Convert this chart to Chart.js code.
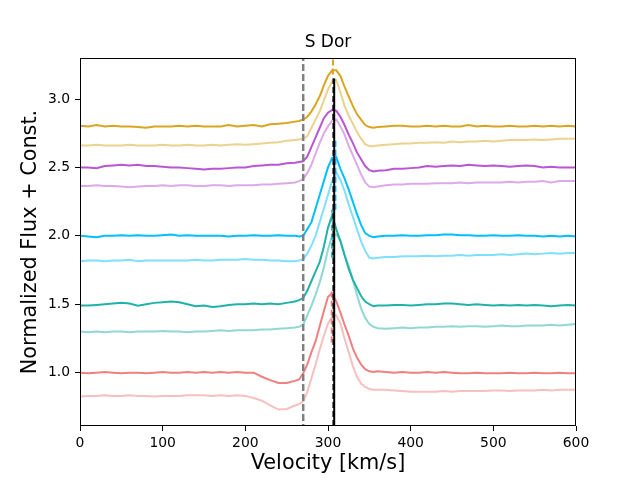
<!DOCTYPE html>
<html>
<head>
<meta charset="utf-8">
<script src="https://cdn.jsdelivr.net/npm/chart.js@4"></script>
<style>
  html, body { margin: 0; padding: 0; background: #fff; }
</style>
</head>
<body>
<canvas id="spectra" width="640" height="480"></canvas>
<script>
// velocity grid (km/s), finer around the emission peak
const velocity = [
    0, 10, 20, 30, 40, 50, 60, 70, 80, 90, 100, 110, 120, 130, 140, 150, 160, 170, 180, 190, 200, 210, 220, 230, 240, 250, 260,
    265, 270, 275, 280, 285, 290, 295, 300, 305, 310, 315, 320, 325, 330, 335, 340, 345, 350, 355,
    360, 370, 380, 390, 400, 410, 420, 430, 440, 450, 460, 470, 480, 490, 500, 510, 520, 530, 540, 550, 560, 570, 580, 590, 600
];

const fluxGold = [
    2.805, 2.80, 2.81, 2.80, 2.805, 2.80, 2.80, 2.795, 2.79, 2.80, 2.80, 2.80, 2.805, 2.80, 2.805, 2.80, 2.80, 2.80, 2.81, 2.80, 2.805, 2.81, 2.80, 2.815, 2.82, 2.825, 2.835,
    2.84, 2.85, 2.87, 2.91, 2.96, 3.02, 3.10, 3.17, 3.21, 3.21, 3.17, 3.09, 3.02, 2.95, 2.89, 2.85, 2.81, 2.795, 2.79,
    2.795, 2.80, 2.805, 2.805, 2.80, 2.80, 2.805, 2.80, 2.805, 2.80, 2.80, 2.81, 2.80, 2.805, 2.80, 2.80, 2.805, 2.80, 2.80, 2.805, 2.80, 2.805, 2.80, 2.805, 2.80
];
const fluxGoldLight = [
    2.66, 2.66, 2.665, 2.66, 2.66, 2.66, 2.665, 2.66, 2.66, 2.66, 2.665, 2.66, 2.66, 2.665, 2.66, 2.66, 2.665, 2.66, 2.665, 2.67, 2.665, 2.67, 2.675, 2.68, 2.685, 2.695, 2.70,
    2.705, 2.71, 2.73, 2.79, 2.85, 2.91, 2.99, 3.07, 3.13, 3.14, 3.05, 2.95, 2.88, 2.82, 2.76, 2.71, 2.67, 2.655, 2.655,
    2.66, 2.665, 2.67, 2.675, 2.675, 2.68, 2.68, 2.685, 2.68, 2.69, 2.685, 2.69, 2.69, 2.695, 2.69, 2.695, 2.70, 2.70, 2.70, 2.705, 2.70, 2.705, 2.71, 2.71, 2.71
];
const fluxOrchid = [
    2.50, 2.50, 2.495, 2.51, 2.515, 2.52, 2.515, 2.52, 2.51, 2.51, 2.505, 2.50, 2.50, 2.495, 2.49, 2.485, 2.49, 2.49, 2.495, 2.50, 2.50, 2.51, 2.515, 2.52, 2.52, 2.53, 2.535,
    2.54, 2.545, 2.58, 2.65, 2.72, 2.79, 2.86, 2.90, 2.92, 2.915, 2.87, 2.81, 2.74, 2.68, 2.61, 2.56, 2.51, 2.48, 2.47,
    2.475, 2.48, 2.49, 2.49, 2.495, 2.50, 2.51, 2.505, 2.51, 2.515, 2.51, 2.52, 2.515, 2.51, 2.515, 2.51, 2.505, 2.51, 2.515, 2.51, 2.50, 2.505, 2.50, 2.50, 2.50
];
const fluxOrchidLight = [
    2.365, 2.365, 2.37, 2.365, 2.365, 2.36, 2.355, 2.36, 2.365, 2.365, 2.37, 2.365, 2.37, 2.37, 2.365, 2.365, 2.37, 2.37, 2.365, 2.37, 2.37, 2.37, 2.375, 2.375, 2.38, 2.385, 2.39,
    2.40, 2.415, 2.46, 2.52, 2.60, 2.68, 2.75, 2.80, 2.84, 2.85, 2.80, 2.74, 2.66, 2.59, 2.52, 2.45, 2.39, 2.36, 2.355,
    2.36, 2.37, 2.375, 2.375, 2.38, 2.38, 2.38, 2.385, 2.385, 2.385, 2.39, 2.385, 2.39, 2.39, 2.39, 2.39, 2.395, 2.39, 2.395, 2.395, 2.40, 2.39, 2.40, 2.40, 2.40
];
const fluxSky = [
    2.00, 1.995, 1.99, 2.00, 2.00, 2.005, 2.00, 2.005, 2.00, 2.00, 2.005, 2.01, 2.00, 2.005, 2.00, 2.00, 2.00, 2.00, 1.995, 2.00, 2.00, 2.005, 2.00, 2.00, 2.005, 2.00, 2.00,
    1.995, 2.00, 2.05, 2.10, 2.20, 2.30, 2.40, 2.50, 2.57, 2.575, 2.49, 2.42, 2.34, 2.25, 2.16, 2.08, 2.02, 2.00, 1.99,
    1.995, 2.00, 2.00, 2.005, 2.00, 2.00, 2.005, 2.005, 2.01, 2.01, 2.005, 2.005, 2.00, 2.00, 2.005, 2.00, 2.00, 2.005, 2.00, 2.00, 1.995, 2.00, 1.995, 2.00, 1.995
];
const fluxSkyLight = [
    1.815, 1.82, 1.82, 1.815, 1.82, 1.82, 1.825, 1.815, 1.82, 1.82, 1.82, 1.82, 1.82, 1.82, 1.825, 1.82, 1.82, 1.825, 1.825, 1.825, 1.83, 1.825, 1.825, 1.82, 1.82, 1.815, 1.815,
    1.82, 1.83, 1.87, 1.93, 2.00, 2.10, 2.20, 2.30, 2.40, 2.46, 2.41, 2.33, 2.23, 2.14, 2.05, 1.96, 1.89, 1.84, 1.835,
    1.84, 1.845, 1.845, 1.85, 1.85, 1.85, 1.855, 1.85, 1.855, 1.855, 1.86, 1.855, 1.86, 1.86, 1.86, 1.865, 1.86, 1.865, 1.87, 1.865, 1.87, 1.875, 1.87, 1.875, 1.875
];
const fluxTeal = [
    1.49, 1.49, 1.495, 1.50, 1.505, 1.51, 1.505, 1.49, 1.50, 1.51, 1.515, 1.52, 1.515, 1.50, 1.485, 1.49, 1.48, 1.485, 1.495, 1.50, 1.50, 1.505, 1.50, 1.505, 1.50, 1.51, 1.52,
    1.53, 1.545, 1.60, 1.67, 1.74, 1.81, 1.92, 2.06, 2.15, 2.05, 1.96, 1.86, 1.76, 1.68, 1.62, 1.56, 1.52, 1.50, 1.485,
    1.49, 1.49, 1.495, 1.495, 1.49, 1.495, 1.50, 1.50, 1.505, 1.505, 1.50, 1.495, 1.50, 1.495, 1.49, 1.495, 1.49, 1.495, 1.49, 1.495, 1.49, 1.485, 1.49, 1.495, 1.49
];
const fluxTealLight = [
    1.30, 1.295, 1.30, 1.295, 1.30, 1.30, 1.295, 1.30, 1.30, 1.30, 1.305, 1.30, 1.30, 1.295, 1.30, 1.30, 1.305, 1.31, 1.305, 1.31, 1.31, 1.31, 1.315, 1.315, 1.32, 1.325, 1.33,
    1.335, 1.35, 1.42, 1.49, 1.57, 1.66, 1.77, 1.90, 2.00, 2.01, 1.97, 1.86, 1.78, 1.68, 1.57, 1.47, 1.40, 1.355, 1.335,
    1.325, 1.32, 1.325, 1.33, 1.325, 1.33, 1.33, 1.335, 1.335, 1.34, 1.335, 1.34, 1.34, 1.335, 1.34, 1.345, 1.34, 1.34, 1.345, 1.345, 1.345, 1.35, 1.345, 1.35, 1.355
];
const fluxCoral = [
    1.00, 0.995, 1.00, 1.005, 1.00, 0.995, 1.00, 1.00, 0.995, 1.00, 1.005, 1.00, 1.00, 1.005, 1.00, 1.005, 1.00, 1.005, 1.00, 1.005, 1.00, 1.00, 0.97, 0.945, 0.925, 0.925, 0.94,
    0.95, 0.995, 1.06, 1.15, 1.23, 1.34, 1.45, 1.555, 1.58, 1.52, 1.44, 1.35, 1.27, 1.18, 1.11, 1.06, 1.025, 1.01, 1.005,
    1.01, 1.005, 1.00, 1.005, 1.00, 1.00, 1.005, 1.00, 1.005, 1.00, 0.995, 0.995, 1.00, 0.995, 0.995, 0.995, 1.00, 0.995, 0.995, 1.00, 0.995, 0.995, 1.00, 0.995, 0.995
];
const fluxCoralLight = [
    0.825, 0.83, 0.83, 0.835, 0.83, 0.83, 0.835, 0.83, 0.83, 0.825, 0.83, 0.83, 0.83, 0.835, 0.835, 0.835, 0.83, 0.835, 0.83, 0.835, 0.83, 0.815, 0.795, 0.76, 0.73, 0.735, 0.76,
    0.77, 0.79, 0.86, 0.96, 1.06, 1.17, 1.27, 1.36, 1.41, 1.42, 1.36, 1.25, 1.15, 1.05, 0.97, 0.92, 0.895, 0.88, 0.875,
    0.875, 0.875, 0.87, 0.865, 0.86, 0.86, 0.86, 0.86, 0.865, 0.86, 0.865, 0.865, 0.865, 0.865, 0.87, 0.87, 0.865, 0.87, 0.87, 0.87, 0.875, 0.87, 0.875, 0.875, 0.875
];

// dashed markers at the fitted peak of each strong series
const peakVel = [306, 306.5, 309, 305, 304.5];
const peakLow = [3.18, 2.85, 2.19, 1.84, 1.22];
const peakHigh = [3.30, 3.00, 2.70, 2.19, 1.60];

const systemicVel = 307.5;   // black solid
const systemicRange = [0.61, 3.15];
const edgeVel = 270;         // grey dashed
const edgeRange = [0.5, 3.4];

const xTicks = [0, 100, 200, 300, 400, 500, 600];
const yTicks = [1.0, 1.5, 2.0, 2.5, 3.0];

const GOLD = '#DAA520', ORCHID = '#BA55D3', SKY = '#00BFFF', TEAL = '#20B2AA', CORAL = '#F08080';
const fade = hex => hex + '80';

const spectra = [
    [fluxGold, GOLD], [fluxGoldLight, fade(GOLD)],
    [fluxOrchid, ORCHID], [fluxOrchidLight, fade(ORCHID)],
    [fluxSky, SKY], [fluxSkyLight, fade(SKY)],
    [fluxTeal, TEAL], [fluxTealLight, fade(TEAL)],
    [fluxCoral, CORAL], [fluxCoralLight, fade(CORAL)]
];
const peakColors = [GOLD, ORCHID, SKY, TEAL, CORAL];

const datasets = [];

spectra.forEach(([flux, color]) => {
    datasets.push({
        data: velocity.map((v, i) => ({ x: v, y: flux[i] })),
        borderColor: color,
        borderWidth: 2,
        pointRadius: 0,
        order: 2
    });
});

peakVel.forEach((v, i) => {
    datasets.push({
        data: [{ x: v, y: peakLow[i] }, { x: v, y: peakHigh[i] }],
        borderColor: peakColors[i],
        borderWidth: 2,
        borderDash: [6, 3],
        pointRadius: 0,
        order: 1
    });
});

datasets.push({
    data: [{ x: edgeVel, y: edgeRange[0] }, { x: edgeVel, y: edgeRange[1] }],
    borderColor: '#808080',
    borderWidth: 2.5,
    borderDash: [7, 3],
    pointRadius: 0,
    order: 1
});
datasets.push({
    data: [{ x: systemicVel - 0.9, y: systemicRange[0] }, { x: systemicVel - 0.9, y: systemicRange[1] }],
    borderColor: '#000',
    borderWidth: 2,
    borderDash: [6, 3],
    pointRadius: 0,
    order: 0
});
datasets.push({
    data: [{ x: systemicVel, y: systemicRange[0] }, { x: systemicVel, y: systemicRange[1] }],
    borderColor: '#000',
    borderWidth: 2,
    pointRadius: 0,
    order: 0
});

// black frame round the plot area, and the title centred over it
const frame = {
    id: 'frame',
    afterDraw(chart) {
        const { ctx, chartArea: a } = chart;
        ctx.save();
        ctx.strokeStyle = '#000';
        ctx.lineWidth = 1;
        ctx.strokeRect(a.left + 0.5, a.top + 0.5, a.right - a.left - 1, a.bottom - a.top - 1);
        ctx.fillStyle = '#000';
        ctx.font = "17px 'DejaVu Sans', sans-serif";
        ctx.textAlign = 'center';
        ctx.textBaseline = 'middle';
        ctx.fillText('S Dor', (a.left + a.right) / 2, a.top - 15);
        ctx.restore();
    }
};

Chart.defaults.font.family = "'DejaVu Sans', sans-serif";
Chart.defaults.color = '#000';

new Chart(document.getElementById('spectra'), {
    type: 'line',
    data: { datasets: datasets },
    options: {
        responsive: false,
        animation: false,
        layout: { padding: { left: 0, right: 64, top: 58, bottom: 0 } },
        plugins: {
            legend: { display: false },
            tooltip: { enabled: false },
            title: { display: false }
        },
        scales: {
            x: {
                type: 'linear',
                min: 0,
                max: 600,
                afterFit: s => { s.height = 54; },
                afterBuildTicks: s => { s.ticks = xTicks.map(v => ({ value: v })); },
                border: { display: false },
                grid: { drawOnChartArea: false, drawTicks: true, tickLength: 5, color: '#000' },
                ticks: { font: { size: 13.9 }, color: '#000', padding: 4, maxRotation: 0 },
                title: {
                    display: true,
                    text: 'Velocity [km/s]',
                    font: { size: 20.8 },
                    color: '#000',
                    padding: { top: 0, bottom: 3.5 }
                }
            },
            y: {
                type: 'linear',
                min: 0.61,
                max: 3.30,
                afterFit: s => { s.width = 80; },
                afterBuildTicks: s => { s.ticks = yTicks.map(v => ({ value: v })); },
                border: { display: false },
                grid: { drawOnChartArea: false, drawTicks: true, tickLength: 5, color: '#000' },
                ticks: {
                    font: { size: 13.9 },
                    color: '#000',
                    padding: 5,
                    callback: v => v.toFixed(1)
                },
                title: {
                    display: true,
                    text: 'Normalized Flux + Const.',
                    font: { size: 20.8 },
                    color: '#000',
                    padding: { top: 18.5, bottom: 0 }
                }
            }
        }
    },
    plugins: [frame]
});
</script>
</body>
</html>
